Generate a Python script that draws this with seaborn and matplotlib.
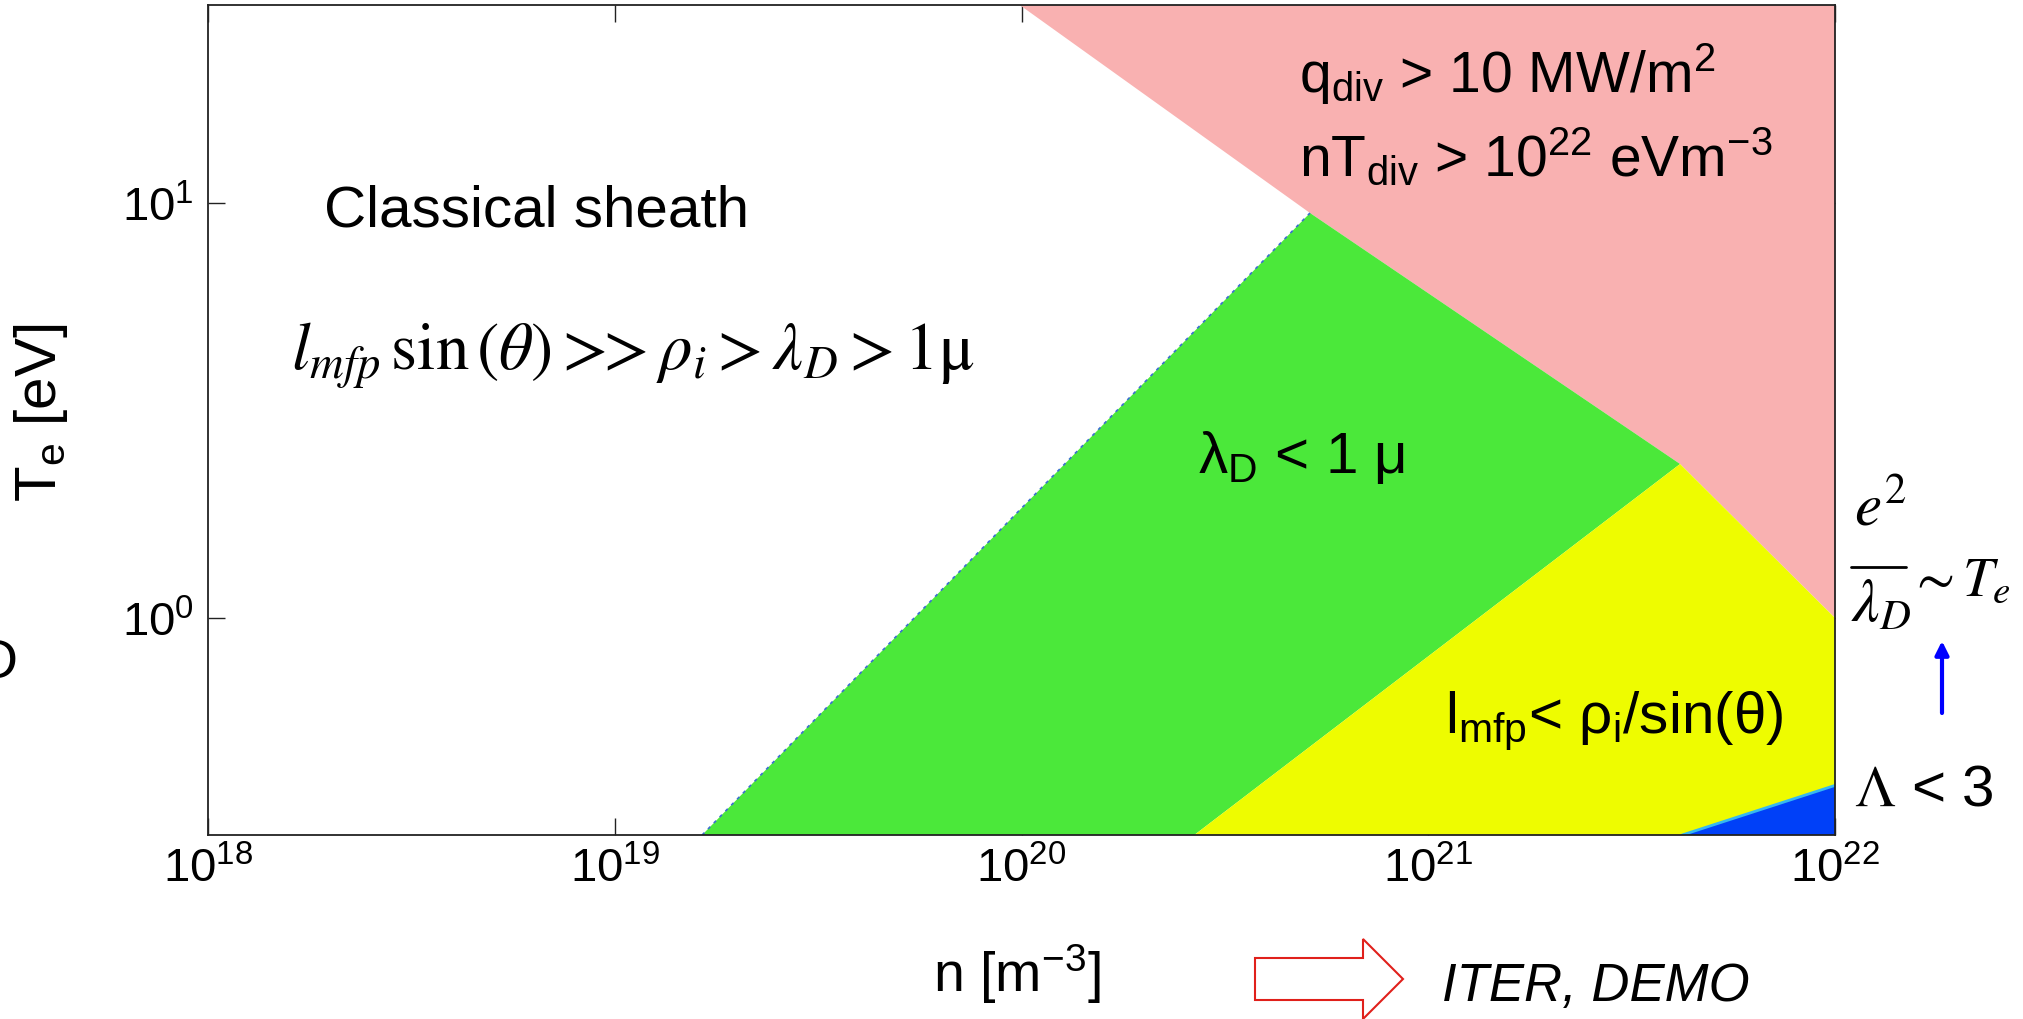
import matplotlib
matplotlib.use("Agg")
import matplotlib.pyplot as plt
import matplotlib.patches as mpatches
from matplotlib.lines import Line2D
from matplotlib.ticker import NullLocator
import seaborn as sns

# region outlines: vertices as (n [m^-3], T_e [eV])
pink_n = [9.9e19, 5.12e20, 4.16e21, 1e22, 1e22]
pink_T = [30, 9.46, 2.35, 1.0, 30]
green_n = [1.64e19, 5.12e20, 4.16e21, 2.66e20]
green_T = [0.3, 9.46, 2.35, 0.3]
yellow_n = [2.66e20, 4.16e21, 1e22, 1e22]
yellow_T = [0.3, 2.35, 1.0, 0.3]
blue_n = [4.21e21, 1e22, 1e22]
blue_T = [0.3, 0.395, 0.3]

x_ticks = [1e18, 1e19, 1e20, 1e21, 1e22]
x_tick_labels = ["$10^{18}$", "$10^{19}$", "$10^{20}$", "$10^{21}$", "$10^{22}$"]
y_ticks = [1e0, 1e1]
y_tick_labels = ["$10^{0}$", "$10^{1}$"]

PINK = "#F9B1B1"
GREEN = "#4BE83A"
YELLOW = "#EEFC00"
BLUE = "#0040F8"

sns.set_theme(style="ticks")
plt.rcParams["font.family"] = ["Liberation Sans", "DejaVu Sans"]
plt.rcParams["mathtext.fontset"] = "custom"
plt.rcParams["mathtext.rm"] = "Liberation Sans"
plt.rcParams["mathtext.it"] = "Liberation Sans:italic"
plt.rcParams["mathtext.bf"] = "Liberation Sans:bold"
plt.rcParams["mathtext.sf"] = "Liberation Sans"
for key in ["text.color", "axes.labelcolor", "xtick.color", "ytick.color"]:
    plt.rcParams[key] = "black"

W, H = 2023, 1020
fig = plt.figure(figsize=(W / 100, H / 100), dpi=100)
ax = fig.add_axes([208 / W, 1 - 836 / H, (1835 - 208) / W, (836 - 6) / H])

ax.fill(pink_n, pink_T, color=PINK, lw=0)
ax.fill(green_n, green_T, color=GREEN, lw=0)
ax.fill(yellow_n, yellow_T, color=YELLOW, lw=0)
ax.fill(blue_n, blue_T, color=BLUE, lw=0)
# thin fringes left by the contouring in the original
ax.plot(green_n[:2], green_T[:2], color="#3a6fd0", lw=1.2, ls=(0, (2, 3)))
ax.plot(blue_n[:2], blue_T[:2], color="#35b8f0", lw=2)

ax.set_xscale("log")
ax.set_yscale("log")
ax.set_xlim(1e18, 1e22)
ax.set_ylim(0.3, 30)
ax.set_xticks(x_ticks)
ax.set_xticklabels(x_tick_labels)
ax.set_yticks(y_ticks)
ax.set_yticklabels(y_tick_labels)
ax.xaxis.set_minor_locator(NullLocator())
ax.yaxis.set_minor_locator(NullLocator())
ax.tick_params(which="both", direction="in", top=True, right=True,
               length=12, width=1, color="#222222", labelsize=34, pad=8)
ax.tick_params(axis="y", pad=10)
for s in ax.spines.values():
    s.set_color("#222222")
    s.set_linewidth(1.3)
ax.set_facecolor("white")

ax.set_xlabel("n [m$^{-3}$]", fontsize=40)
ax.xaxis.label.set_verticalalignment("center")
ax.xaxis.set_label_coords((1017 - 208) / 1627, -(974 - 836) / 830)
ax.set_ylabel("T$_\\mathregular{e}$ [eV]", fontsize=42)
ax.yaxis.label.set_verticalalignment("center")
ax.yaxis.set_label_coords(-(208 - 41) / 1627, (836 - 413) / 830)

# region labels
ax.text(1.93e18, 9.6, "Classical sheath", fontsize=42, ha="left", va="center")
ax.text(1.6e18, 4.3,
        r"$l_{mfp}\,\sin\left(\theta\right) >\!\!\!> \rho_i > \lambda_D > 1\mathrm{\mu}$",
        fontsize=48, math_fontfamily="stix", ha="left", va="center")
ax.text(2.72e20, 2.45, r"$\mathrm{\lambda_D}$ < 1 $\mathrm{\mu}$", fontsize=42,
        ha="left", va="center")
ax.text(4.8e20, 20.5, r"q$_\mathregular{div}$ > 10 MW/m$^\mathregular{2}$", fontsize=41,
        ha="left", va="center")
ax.text(4.8e20, 13.0, r"nT$_\mathregular{div}$ > 10$^\mathregular{22}$ eVm$^\mathregular{-3}$",
        fontsize=41, ha="left", va="center")
ax.text(1.1e21, 0.57, r"l$_\mathregular{mfp}$< $\mathrm{\rho_i}$/sin($\mathrm{\theta}$)",
        fontsize=42, ha="left", va="center")

# e^2 / lambda_D ~ T_e, set as a tall fraction outside the axes
fig.text(1881 / W, 1 - 510 / H, r"$e^2$", fontsize=44, math_fontfamily="stix",
         ha="center", va="center")
fig.add_artist(Line2D([1851 / W, 1906 / W], [1 - 568 / H, 1 - 568 / H],
                      color="black", lw=2, transform=fig.transFigure))
fig.text(1881 / W, 1 - 606 / H, r"$\lambda_D$", fontsize=44, math_fontfamily="stix",
         ha="center", va="center")
fig.text(1908 / W, 1 - 582 / H, r"$\sim T_e$", fontsize=40, math_fontfamily="stix",
         ha="left", va="center")

fig.text(1854 / W, 1 - 790 / H, r"$\Lambda$ < 3", fontsize=42,
         math_fontfamily="stix", ha="left", va="center")
ax.annotate("", xy=(1942 / W, 1 - 642 / H), xytext=(1942 / W, 1 - 714 / H),
            xycoords="figure fraction", textcoords="figure fraction",
            arrowprops=dict(arrowstyle="-|>", color="#0000FF", lw=3,
                            mutation_scale=20, shrinkA=0, shrinkB=0))
fig.text(-2 / W, 1 - 664 / H, "D", fontsize=40, ha="center", va="center")

arrow = mpatches.FancyArrow(1255 / W, 1 - 980 / H, 148 / W, 0,
                            width=42 / H, head_width=80 / H, head_length=40 / W,
                            length_includes_head=True, transform=fig.transFigure,
                            facecolor="white", edgecolor="#E0201B", lw=1.5)
fig.add_artist(arrow)
fig.text(1442 / W, 1 - 987 / H, "ITER, DEMO", fontsize=38, style="italic",
         ha="left", va="center")

fig.savefig("out.png", dpi=100, facecolor="white")
